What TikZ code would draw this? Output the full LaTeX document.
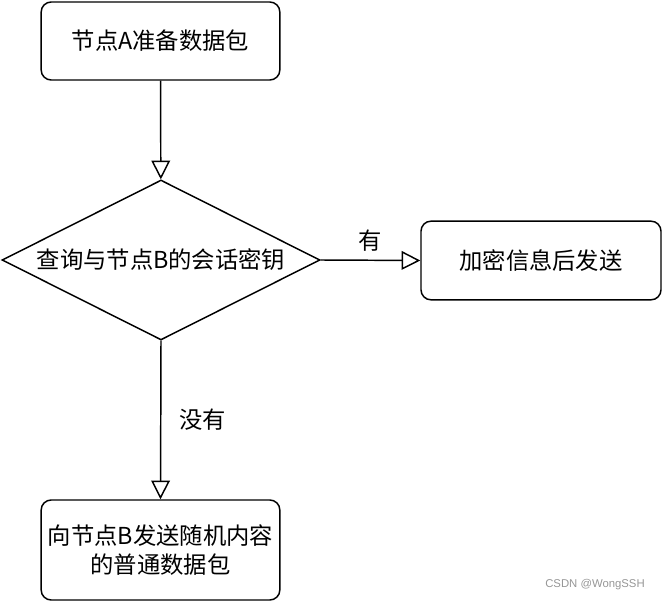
\documentclass[tikz,border=0pt]{standalone}
\usepackage{fontspec}
\setmainfont{Noto Sans CJK SC}
\newfontfamily\markfont{Liberation Sans}
\usepackage{tikz}
\usetikzlibrary{arrows.meta, positioning, shapes.geometric}
\definecolor{markgray}{RGB}{150,150,150}

\tikzset{
  stepbox/.style={draw, line width=1.1pt, rounded corners=7.5pt, align=center,
    font=\fontsize{17.5}{22}\selectfont},
  checkbox/.style={draw, line width=1.1pt, diamond, aspect=2, inner sep=0pt,
    minimum width=238.5pt, minimum height=120pt,
    font=\fontsize{17.5}{22}\selectfont},
  flow/.style={line width=1.1pt, -{Triangle[open, length=14pt, width=14pt]}},
  branch/.style={font=\fontsize{17.5}{22}\selectfont},
}

\begin{document}
\begin{tikzpicture}[x=0.75pt, y=-0.75pt]
  \useasboundingbox (0,0) rectangle (662,602);
  % steps
  \node[stepbox, minimum width=179pt, minimum height=58.5pt] (prep) at (160.5,41) {节点A准备数据包};
  \node[checkbox] (query) at (161,260) {查询与节点B的会话密钥};
  \node[stepbox, minimum width=180pt, minimum height=59pt] (send) at (541,260.5) {加密信息后发送};
  \node[stepbox, minimum width=179pt, minimum height=75pt] (plain) at (160.5,550) {向节点B发送随机内容\\的普通数据包};
  % connectors
  \draw[flow] (prep) -- (query);
  \draw[flow] (query.east) -- (send.west) node[branch, midway, above=3pt] (yes) {有};
  \draw[flow] (query.south) -- (plain.north) node[branch, midway, right=10pt] (no) {没有};
  % watermark
  \node[font=\markfont\fontsize{8.5}{10}\selectfont, text=markgray] (mark) at (595,585) {CSDN @WongSSH};
\end{tikzpicture}
\end{document}
